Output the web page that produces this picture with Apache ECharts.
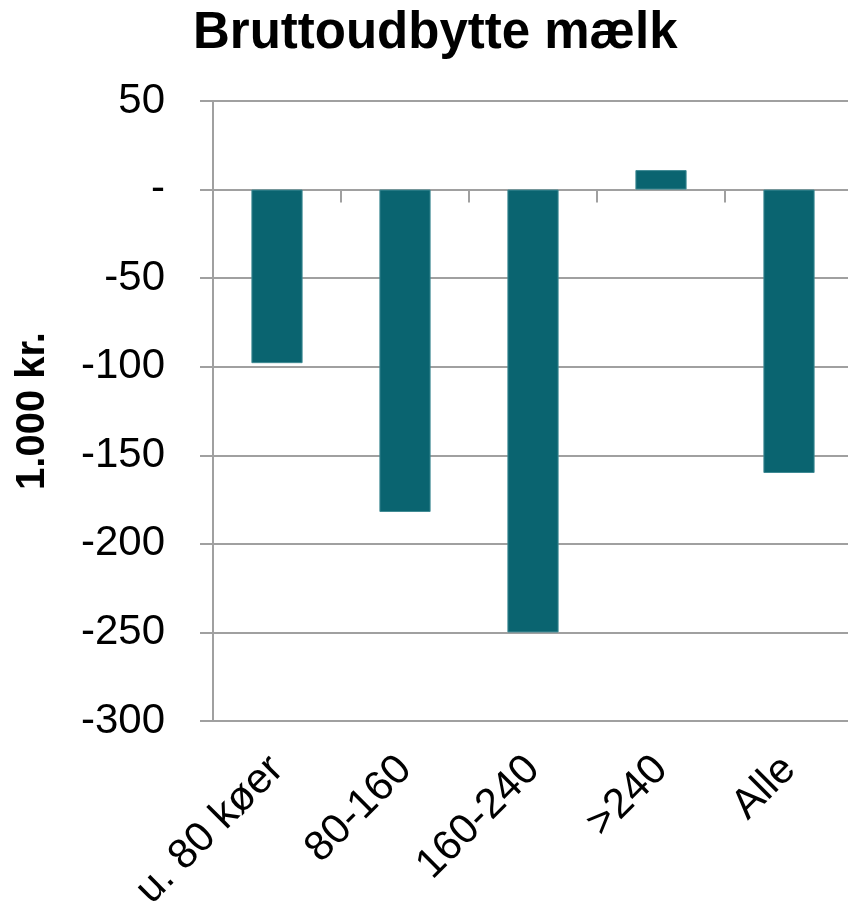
<!DOCTYPE html>
<html>
<head>
<meta charset="utf-8">
<script src="https://cdn.jsdelivr.net/npm/echarts@6/dist/echarts.min.js"></script>
<style>
  html, body { margin: 0; padding: 0; background: #fff; }
  #chart { width: 848px; height: 907px; }
</style>
</head>
<body>
<div id="chart"></div>
<script>
const categories = ['u. 80 køer', '80-160', '160-240', '>240', 'Alle']
const values = [-98, -182, -250, 11, -160]
const yTicks = { min: -300, max: 50, interval: 50 }

const chart = echarts.init(document.getElementById('chart'))

const font = 'Liberation Sans, Arial, sans-serif'

const option = {
  backgroundColor: '#fff',
  animation: false,
  title: {
    text: 'Bruttoudbytte mælk',
    left: 188,
    top: 3,
    textStyle: {
      fontFamily: font,
      fontSize: 51,
      fontWeight: 'bold',
      color: '#000'
    }
  },
  grid: {
    left: 213,
    top: 101,
    width: 640,
    height: 620,
    outerBoundsMode: 'none'
  },
  xAxis: [
    {
      // labels only, kept at the bottom
      type: 'category',
      data: categories,
      position: 'bottom',
      axisLine: { show: false, onZero: false },
      axisTick: { show: false },
      axisLabel: {
        rotate: 45,
        margin: 42,
        interval: 0,
        fontFamily: font,
        fontSize: 42,
        color: '#000'
      }
    },
    {
      // zero line with ticks
      type: 'category',
      data: categories,
      position: 'top',
      axisLine: { show: true, onZero: true, lineStyle: { color: '#a0a0a0', width: 2 } },
      axisTick: { show: true, inside: true, length: 13, lineStyle: { color: '#a0a0a0', width: 2 } },
      axisLabel: { show: false }
    }
  ],
  yAxis: {
    type: 'value',
    min: yTicks.min,
    max: yTicks.max,
    interval: yTicks.interval,
    name: '1.000 kr.',
    nameLocation: 'middle',
    nameGap: 160,
    nameTextStyle: {
      fontFamily: font,
      fontSize: 40,
      fontWeight: 'bold',
      color: '#000'
    },
    axisLine: { show: true, lineStyle: { color: '#a0a0a0', width: 2 } },
    axisTick: { show: true, length: 13, lineStyle: { color: '#a0a0a0', width: 2 } },
    splitLine: { show: true, lineStyle: { color: '#a0a0a0', width: 2 } },
    axisLabel: {
      margin: 48,
      fontFamily: font,
      fontSize: 42,
      color: '#000',
      formatter: (v) => (v === 0 ? '-' : String(v))
    }
  },
  series: [
    {
      type: 'bar',
      data: values,
      barWidth: '40%',
      itemStyle: {
        color: '#0a6470',
        borderColor: '#3f8a94',
        borderWidth: 1
      }
    }
  ]
}

chart.setOption(option)
</script>
</body>
</html>
